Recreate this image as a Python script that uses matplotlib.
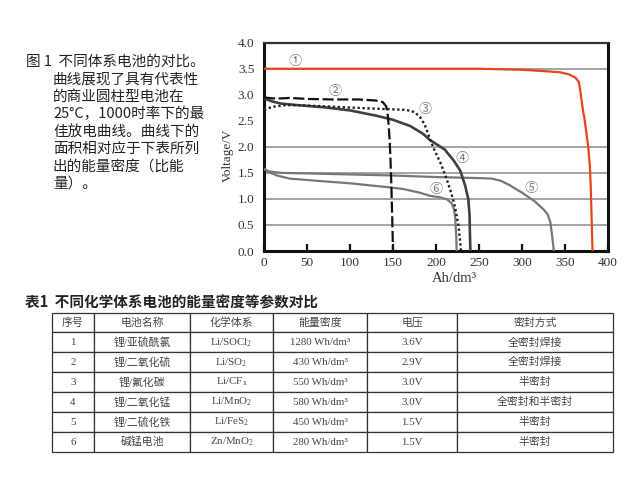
import matplotlib
matplotlib.use('Agg')
import matplotlib.pyplot as plt

plt.rcParams['font.family'] = ['Noto Sans CJK SC', 'DejaVu Sans']
plt.rcParams['mathtext.fontset'] = 'custom'
plt.rcParams['mathtext.rm'] = 'Liberation Serif'
plt.rcParams['mathtext.it'] = 'Liberation Serif:italic'

serif = ['Liberation Serif', 'Noto Sans CJK SC']

# discharge curves (Ah/dm3, V)
x1 = [0, 250, 300, 330, 345, 355, 362, 366, 368, 370, 373, 375, 377, 379, 380, 381, 382]
v1 = [3.5, 3.5, 3.48, 3.45, 3.43, 3.39, 3.33, 3.25, 3.05, 2.8, 2.5, 2.25, 2.0, 1.6, 1.2, 0.6, 0.0]

x2 = [0, 10, 20, 30, 50, 80, 110, 130, 138, 142, 144, 145, 146, 147, 148, 149, 150]
v2 = [2.95, 2.93, 2.93, 2.94, 2.92, 2.91, 2.91, 2.89, 2.86, 2.78, 2.6, 2.4, 2.15, 1.8, 1.3, 0.7, 0.0]

x3 = [0, 10, 25, 40, 80, 120, 150, 165, 175, 182, 187, 192, 197, 205, 212, 218, 222, 226, 228, 229]
v3 = [2.71, 2.77, 2.80, 2.80, 2.77, 2.74, 2.72, 2.71, 2.67, 2.56, 2.42, 2.2, 1.98, 1.7, 1.4, 1.1, 0.85, 0.5, 0.2, 0.0]

x4 = [0, 10, 20, 40, 70, 100, 130, 150, 170, 185, 193, 210, 220, 228, 234, 237.5, 239, 239.5, 240]
v4 = [2.93, 2.87, 2.83, 2.80, 2.76, 2.70, 2.60, 2.52, 2.40, 2.25, 2.13, 1.95, 1.75, 1.55, 1.25, 1.0, 0.7, 0.3, 0.0]

x5 = [0, 5, 20, 50, 100, 150, 200, 250, 265, 275, 285, 300, 315, 325, 330, 333, 335, 337]
v5 = [1.57, 1.53, 1.50, 1.49, 1.47, 1.45, 1.42, 1.40, 1.39, 1.35, 1.27, 1.12, 0.95, 0.8, 0.7, 0.55, 0.3, 0.0]

x6 = [0, 5, 15, 30, 38, 60, 100, 147, 162, 181, 193, 205, 213, 218, 221, 222.5, 223.5, 224]
v6 = [1.58, 1.52, 1.45, 1.39, 1.38, 1.35, 1.30, 1.22, 1.19, 1.12, 1.06, 1.03, 0.99, 0.92, 0.8, 0.6, 0.3, 0.0]

curve_tags = ['①', '②', '③', '④', '⑤', '⑥']
tag_x = [36, 83, 187, 230, 311, 200]
tag_y = [3.63, 3.06, 2.71, 1.78, 1.20, 1.18]

grid_levels = [0.5, 1.0, 1.5, 2.0, 3.5]

caption = ['图 1  不同体系电池的对比。',
           '曲线展现了具有代表性',
           '的商业圆柱型电池在',
           '25°C，1000时率下的最',
           '佳放电曲线。曲线下的',
           '面积相对应于下表所列',
           '出的能量密度（比能',
           '量）。']

table_title = '表1  不同化学体系电池的能量密度等参数对比'
header = ['序号', '电池名称', '化学体系', '能量密度', '电压', '密封方式']
ids = ['1', '2', '3', '4', '5', '6']
names = ['锂/亚硫酰氯', '锂/二氧化硫', '锂/氟化碳', '锂/二氧化锰', '锂/二硫化铁', '碱锰电池']
chem = ['Li/SOCl$_2$', 'Li/SO$_2$', 'Li/CF$_\\mathrm{x}$', 'Li/MnO$_2$', 'Li/FeS$_2$', 'Zn/MnO$_2$']
density = ['1280 Wh/dm³', '430 Wh/dm³', '550 Wh/dm³', '580 Wh/dm³', '450 Wh/dm³', '280 Wh/dm³']
volt = ['3.6V', '2.9V', '3.0V', '3.0V', '1.5V', '1.5V']
seal = ['全密封焊接', '全密封焊接', '半密封', '全密封和半密封', '半密封', '半密封']

W, H = 635, 484
fig = plt.figure(figsize=(W / 100, H / 100), dpi=100)

# chart
ax = fig.add_axes([264 / W, 1 - 251 / H, 344 / W, 208.3 / H])
for lv in grid_levels:
    ax.axhline(lv, color='#8a8a8a', lw=1.1, zorder=1)

ax.plot(x6, v6, color='#777777', lw=1.6, zorder=3)
ax.plot(x5, v5, color='#777777', lw=1.6, zorder=3)
ax.plot(x4, v4, color='#404040', lw=1.9, zorder=3)
ax.plot(x3, v3, color='#222222', lw=1.7, ls=(0, (1, 1.1)), zorder=3)
ax.plot(x2, v2, color='#111111', lw=1.6, ls=(0, (5, 1.6)), zorder=3)
ax.plot(x1, v1, color='#e8441a', lw=1.6, zorder=4)

for t, tx, ty in zip(curve_tags, tag_x, tag_y):
    ax.text(tx, ty, t, ha='center', va='center', fontsize=9.5, color='#777777')

ax.set_xlim(0, 400)
ax.set_ylim(0, 4)
ax.set_xticks(range(0, 401, 50))
ax.set_yticks([i * 0.5 for i in range(9)])
ax.set_yticklabels(['%.1f' % (i * 0.5) for i in range(9)])
ax.tick_params(axis='x', direction='in', length=5, width=1.6, color='#111111', pad=4,
               labelsize=9.5, labelcolor='#333333')
ax.tick_params(axis='y', length=0, pad=7, labelsize=9.5, labelcolor='#333333')
for lab in ax.get_xticklabels() + ax.get_yticklabels():
    lab.set_fontfamily(serif)
for s in ['left', 'bottom', 'right']:
    ax.spines[s].set_linewidth(2.2)
    ax.spines[s].set_color('#111111')
ax.spines['top'].set_linewidth(1.6)
ax.spines['top'].set_color('#333333')

ax.set_ylabel('Voltage/V', fontfamily=serif, fontsize=9.5, color='#333333', va='center')
ax.yaxis.set_label_coords(-0.105, 0.46)
ax.set_xlabel('Ah/dm³', fontfamily=serif, fontsize=10.5, color='#333333', va='center')
ax.xaxis.set_label_coords(0.552, -0.13)

# caption on the left
for i, line in enumerate(caption):
    x0 = 26 if i == 0 else 53
    fig.text(x0 / W, 1 - (62 + 17.4 * i) / H, line, fontsize=10.5, color='#222222', va='center')

# table
fig.text(25 / W, 1 - 302 / H, table_title, fontsize=10.5, fontweight='bold', color='#222222', va='center')
tax = fig.add_axes([52 / W, 1 - 452 / H, 561 / W, 139.5 / H])
tax.axis('off')
rows = list(zip(ids, names, chem, density, volt, seal))
col_w = [42, 96, 83, 94, 90, 156]
tbl = tax.table(cellText=rows, colLabels=header, colWidths=[c / sum(col_w) for c in col_w],
                cellLoc='center', bbox=[0, 0, 1, 1])
tbl.auto_set_font_size(False)
tbl.set_fontsize(7.8)
for (r, c), cell in tbl.get_celld().items():
    cell.set_edgecolor('#333333')
    cell.set_linewidth(0.9)
    cell.set_text_props(fontfamily=serif, color='#444444')

fig.savefig('out.png', dpi=100)
